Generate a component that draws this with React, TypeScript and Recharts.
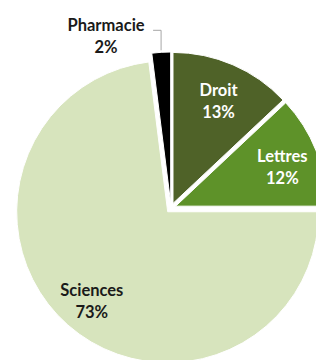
import { PieChart, Pie, Cell, Sector } from "recharts";

const faculties = ["Droit", "Lettres", "Sciences", "Pharmacie"];
const shares = [13, 12, 73, 2];
const colors = ["#4F6228", "#5E9229", "#D7E4BD", "#000000"];
const labelColors = ["#ffffff", "#ffffff", "#1a1a1a", "#1a1a1a"];

const data = faculties.map((name, i) => ({ name, value: shares[i] }));

const RAD = Math.PI / 180;
const EXPLODE = 5;

function ExplodedSector(props: any) {
  const { cx, cy, midAngle } = props;
  const dx = EXPLODE * Math.cos(-midAngle * RAD);
  const dy = EXPLODE * Math.sin(-midAngle * RAD);
  return <Sector {...props} cx={cx + dx} cy={cy + dy} />;
}

function renderLabel(props: any) {
  const { cx, cy, midAngle, outerRadius, index, name, value } = props;
  const cos = Math.cos(-midAngle * RAD);
  const sin = Math.sin(-midAngle * RAD);
  const style = {
    fontFamily: "Lato, 'Open Sans', sans-serif",
    fontWeight: 700,
    fontSize: 16.5,
  };
  if (value < 5) {
    // small slice: label outside with a leader line
    const ex = cx + (outerRadius + EXPLODE + 2) * cos;
    const ey = cy + (outerRadius + EXPLODE + 2) * sin;
    const tx = ex - 8;
    const ty = ey - 20;
    return (
      <g>
        <polyline
          points={`${ex},${ey} ${ex},${ty} ${tx},${ty}`}
          fill="none"
          stroke="#a6a6a6"
          strokeWidth={1}
        />
        <text x={tx - 47} y={ty + 1} textAnchor="middle" fill={labelColors[index]} style={style}>
          <tspan x={tx - 47} dy={0}>{name}</tspan>
          <tspan x={tx - 47} dy={22}>{`${value}%`}</tspan>
        </text>
      </g>
    );
  }
  const r = outerRadius * 0.76 + EXPLODE;
  const x = cx + r * cos;
  const y = cy + r * sin;
  return (
    <text x={x} y={y} textAnchor="middle" fill={labelColors[index]} style={style}>
      <tspan x={x} dy={-2}>{name}</tspan>
      <tspan x={x} dy={22}>{`${value}%`}</tspan>
    </text>
  );
}

export default function App() {
  return (
    <div style={{ position: "fixed", left: 0, top: 0, width: 316, height: 360, overflow: "hidden", background: "#fff" }}>
      <PieChart width={316} height={360} margin={{ top: 0, right: 0, bottom: 0, left: 0 }}>
        <Pie
          data={data}
          dataKey="value"
          nameKey="name"
          cx={171}
          cy={208}
          outerRadius={151}
          startAngle={90}
          endAngle={-270}
          stroke="#ffffff"
          strokeWidth={1}
          shape={ExplodedSector}
          label={renderLabel}
          labelLine={false}
          isAnimationActive={false}
        >
          {data.map((d, i) => (
            <Cell key={d.name} fill={colors[i]} />
          ))}
        </Pie>
      </PieChart>
    </div>
  );
}
